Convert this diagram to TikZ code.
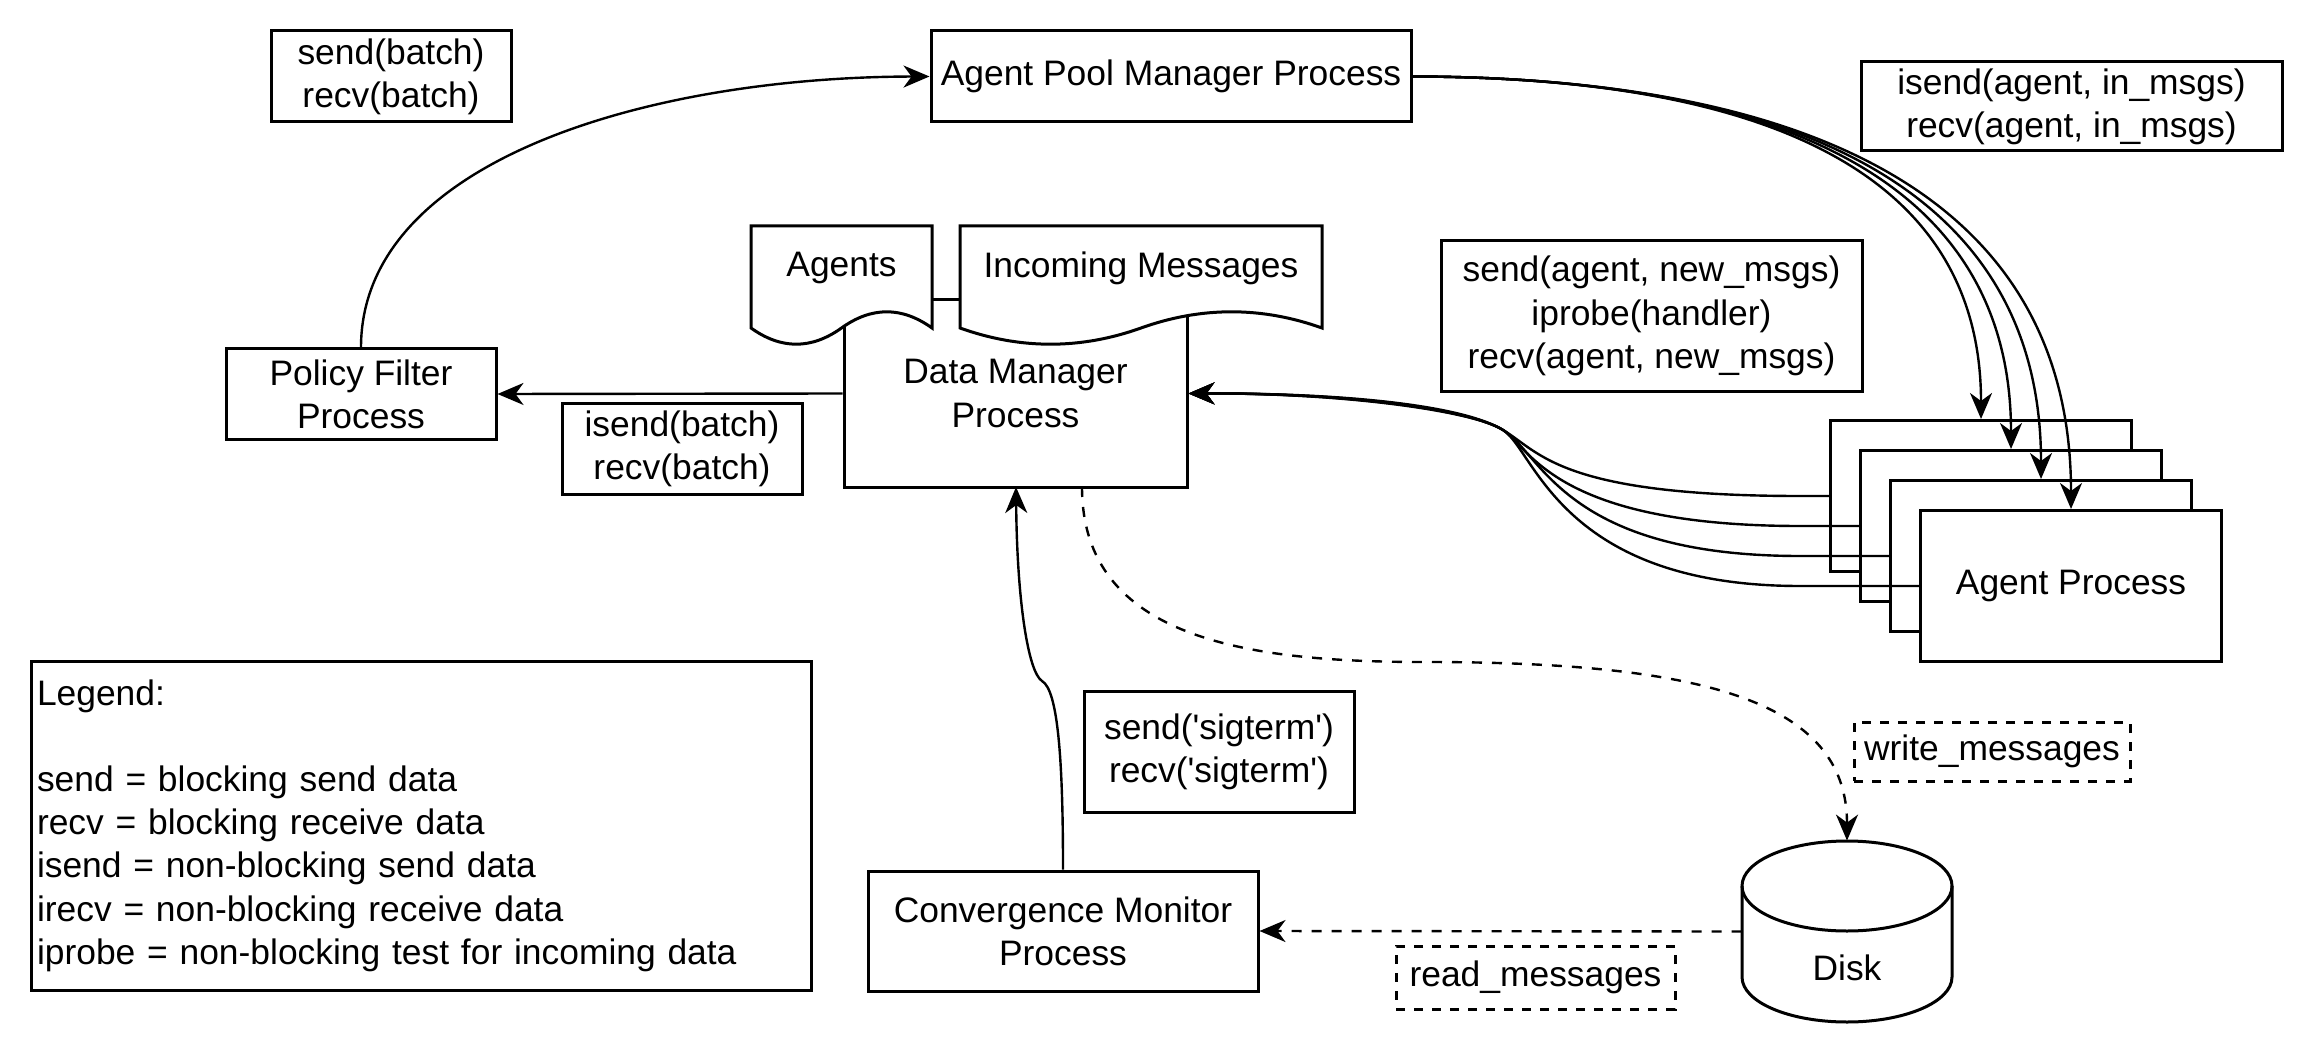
\documentclass[tikz,border=0pt]{standalone}
\usepackage{fontspec}
\setmainfont{Liberation Sans}
\usetikzlibrary{arrows.meta}
\newcommand\docshape[3]{\begin{scope}[shift={(#1,#2)}]
\draw[line width=1.5pt, fill=white] (0,0) -- (#3,0) -- (#3,102) .. controls ({#3*5/6},80.4) and ({#3*2/3},80.4) .. ({#3/2},102) .. controls ({#3/3},123.6) and ({#3/6},123.6) .. (0,102) -- cycle;
\end{scope}}
\begin{document}
\begin{tikzpicture}[x=0.5pt,y=-0.5pt,
  every node/.style={font=\fontsize{17.7pt}{21.6pt}\selectfont, align=center, inner sep=0pt},
  box/.style={draw, line width=1.5pt, fill=white},
  dbox/.style={draw, line width=1.5pt, dash pattern=on 4.5pt off 4.5pt, fill=white},
  conn/.style={line width=1.2pt, -{Stealth[length=13pt,width=11pt,inset=4pt]}},
  dconn/.style={conn, dash pattern=on 5pt off 5pt}
]
\useasboundingbox (0,0) rectangle (2316,1053);

% top labels and pool manager
\node[box, minimum width=120pt, minimum height=45.5pt] (sb) at (391,76.5) {send(batch)\\recv(batch)};
\node[box, minimum width=240pt, minimum height=45.5pt] (apm) at (1171,76.5) {Agent Pool Manager Process};
\node[box, minimum width=210.5pt, minimum height=44.5pt] (isa) at (2071.5,106.5) {isend(agent, in\_msgs)\\recv(agent, in\_msgs)};

% data manager with documents
\node[box, minimum width=171.5pt, minimum height=93.5pt] (dm) at (1015.5,393.5) {Data Manager\\Process};
\docshape{751}{226}{181}
\docshape{960}{226}{362}
\node (agents) at (841.5,268) {Agents};
\node (inmsg) at (1141,268) {Incoming Messages};

\node[box, minimum width=135pt, minimum height=45pt] (pf) at (361,394) {Policy Filter\\Process};
\node[box, minimum width=120pt, minimum height=45.5pt] (ib) at (682,448.5) {isend(batch)\\recv(batch)};
\node[box, minimum width=210.5pt, minimum height=75pt] (sam) at (1651.5,316) {send(agent, new\_msgs)\\iprobe(handler)\\recv(agent, new\_msgs)};

% agent process stack
\node[box, minimum width=150.5pt, minimum height=75.5pt] (a1) at (1981,496) {};
\node[box, minimum width=150.5pt, minimum height=75.5pt] (a2) at (2011,526) {};
\node[box, minimum width=150.5pt, minimum height=75.5pt] (a3) at (2041,556) {};
\node[box, minimum width=150.5pt, minimum height=75.5pt] (a4) at (2071,586) {Agent Process};

% legend
\node[box, minimum width=390pt, minimum height=164.5pt, align=left, inner xsep=3pt, text width=384pt] (legend) at (421,825.5)
 {Legend:\\\mbox{}\\send = blocking send data\\recv = blocking receive data\\isend = non-blocking send data\\irecv = non-blocking receive data\\iprobe = non-blocking test for incoming data};

\node[box, minimum width=135pt, minimum height=60.5pt] (sig) at (1219,751.5) {send(\textquotesingle sigterm\textquotesingle)\\recv(\textquotesingle sigterm\textquotesingle)};
\node[box, minimum width=195pt, minimum height=60pt] (cm) at (1063,931) {Convergence Monitor\\Process};

% disk
\node[minimum width=105pt, minimum height=90.5pt] (disk) at (1847,931.5) {};
\draw[line width=1.5pt, fill=white] (1742,886) -- (1742,977) .. controls (1742,1002) and (1789,1022) .. (1847,1022) .. controls (1905,1022) and (1952,1002) .. (1952,977) -- (1952,886) .. controls (1952,861) and (1905,841) .. (1847,841) .. controls (1789,841) and (1742,861) .. (1742,886) -- cycle;
\draw[line width=1.5pt] (1742,886) .. controls (1742,911) and (1789,931) .. (1847,931) .. controls (1905,931) and (1952,911) .. (1952,886);
\node (disktext) at (1847,968) {Disk};

\node[dbox, minimum width=138pt, minimum height=29.5pt] (wm) at (1992,751.5) {write\_messages};
\node[dbox, minimum width=139.5pt, minimum height=31.5pt] (rm) at (1535.5,977.5) {read\_messages};

% connectors
\coordinate (dmIn) at (1016,487);
\coordinate (dmOut) at (1082,487);

\draw[conn] (pf.north) .. controls (361,160) and (650,77) .. (apm.west);
\draw[conn] (dm.west) -- (pf.east);

\draw[conn] (apm.east) .. controls (1700,77) and (1981,140) .. (a1.north);
\draw[conn] (apm.east) .. controls (1700,77) and (2011,140) .. (a2.north);
\draw[conn] (apm.east) .. controls (1700,77) and (2041,140) .. (a3.north);
\draw[conn] (apm.east) .. controls (1700,77) and (2071,140) .. (a4.north);

\draw[conn] (a1.west) -- (1800,496) .. controls (1560,496) and (1540,452) .. (1503,430) .. controls (1466,408) and (1350,393) .. (dm.east);
\draw[conn] (a2.west) -- (1800,526) .. controls (1555,526) and (1530,448) .. (1503,430) .. controls (1476,412) and (1350,393) .. (dm.east);
\draw[conn] (a3.west) -- (1800,556) .. controls (1565,556) and (1542,454) .. (1503,430) .. controls (1464,406) and (1350,393) .. (dm.east);
\draw[conn] (a4.west) -- (1800,586) .. controls (1560,586) and (1535,450) .. (1503,430) .. controls (1471,410) and (1350,393) .. (dm.east);

\draw[conn] (cm.north) .. controls (1063,760) and (1058,690) .. (1042,681) .. controls (1028,672) and (1017,600) .. (dmIn);

\draw[dconn] (dmOut) .. controls (1082,640) and (1250,662) .. (1425,662) .. controls (1700,662) and (1847,700) .. (disk.north);
\draw[dconn] (disk.west) -- (cm.east);
\end{tikzpicture}
\end{document}
